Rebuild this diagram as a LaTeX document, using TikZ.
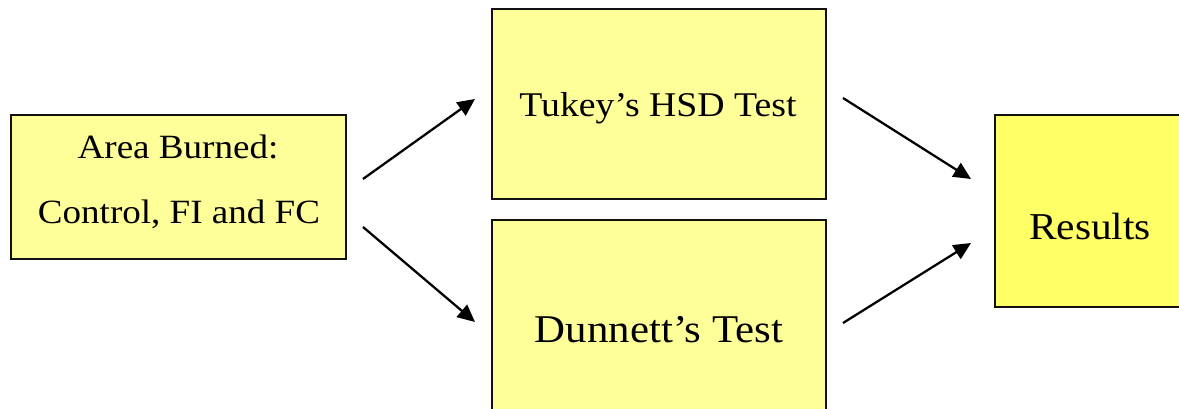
\documentclass[tikz,border=0pt]{standalone}
\usepackage{fontspec}
\setmainfont{Liberation Serif}[FakeStretch=1.09]
\usetikzlibrary{arrows.meta}
\definecolor{paleyellow}{HTML}{FFFF99}
\definecolor{brightyellow}{HTML}{FFFF66}
\definecolor{edge}{HTML}{111111}
\tikzset{
  box/.style={draw=edge, line width=1.7pt, fill=paleyellow, inner sep=0pt, outer sep=0pt},
  label text/.style={anchor=base, inner sep=0pt, text=black},
  flow/.style={line width=1.7pt, -{Triangle[length=13pt, width=12pt]}},
}
\begin{document}
\begin{tikzpicture}[x=0.75pt, y=-0.75pt]
  \useasboundingbox (0,0) rectangle (1179,409);
  \clip (0,0) rectangle (1179,409);

  % boxes
  \node[box, minimum width=251.25pt, minimum height=108pt] (area) at (178.5,187) {};
  \node[box, minimum width=250.5pt, minimum height=142.5pt] (tukey) at (659,104) {};
  \node[box, minimum width=250.5pt, minimum height=165pt] (dunnett) at (659,330) {};
  \node[box, fill=brightyellow, minimum width=150pt, minimum height=144pt] (results) at (1095,211) {};

  % texts
  \node[label text, font=\fontsize{25.5}{30}\selectfont] (areaA) at (178,159) {Area Burned:};
  \node[label text, font=\fontsize{25.5}{30}\selectfont] (areaB) at (179,224) {Control, FI and FC};
  \node[label text, font=\fontsize{26}{31}\selectfont] (tukeyT) at (658,117) {Tukey’s HSD Test};
  \node[label text, font=\fontsize{29.5}{35}\selectfont] (dunnettT) at (659,343) {Dunnett’s Test};
  \node[label text, font=\fontsize{28.5}{34}\selectfont] (resultsT) at (1090,240) {Results};

  % arrow end points
  \coordinate (a1s) at (363,179);
  \coordinate (a1e) at (475,99);
  \coordinate (a2s) at (363,227);
  \coordinate (a2e) at (475,322);
  \coordinate (a3s) at (843,98);
  \coordinate (a3e) at (971,179);
  \coordinate (a4s) at (843,323);
  \coordinate (a4e) at (971,243);

  % arrows
  \draw[flow] (a1s) -- (a1e);
  \draw[flow] (a2s) -- (a2e);
  \draw[flow] (a3s) -- (a3e);
  \draw[flow] (a4s) -- (a4e);
\end{tikzpicture}
\end{document}
